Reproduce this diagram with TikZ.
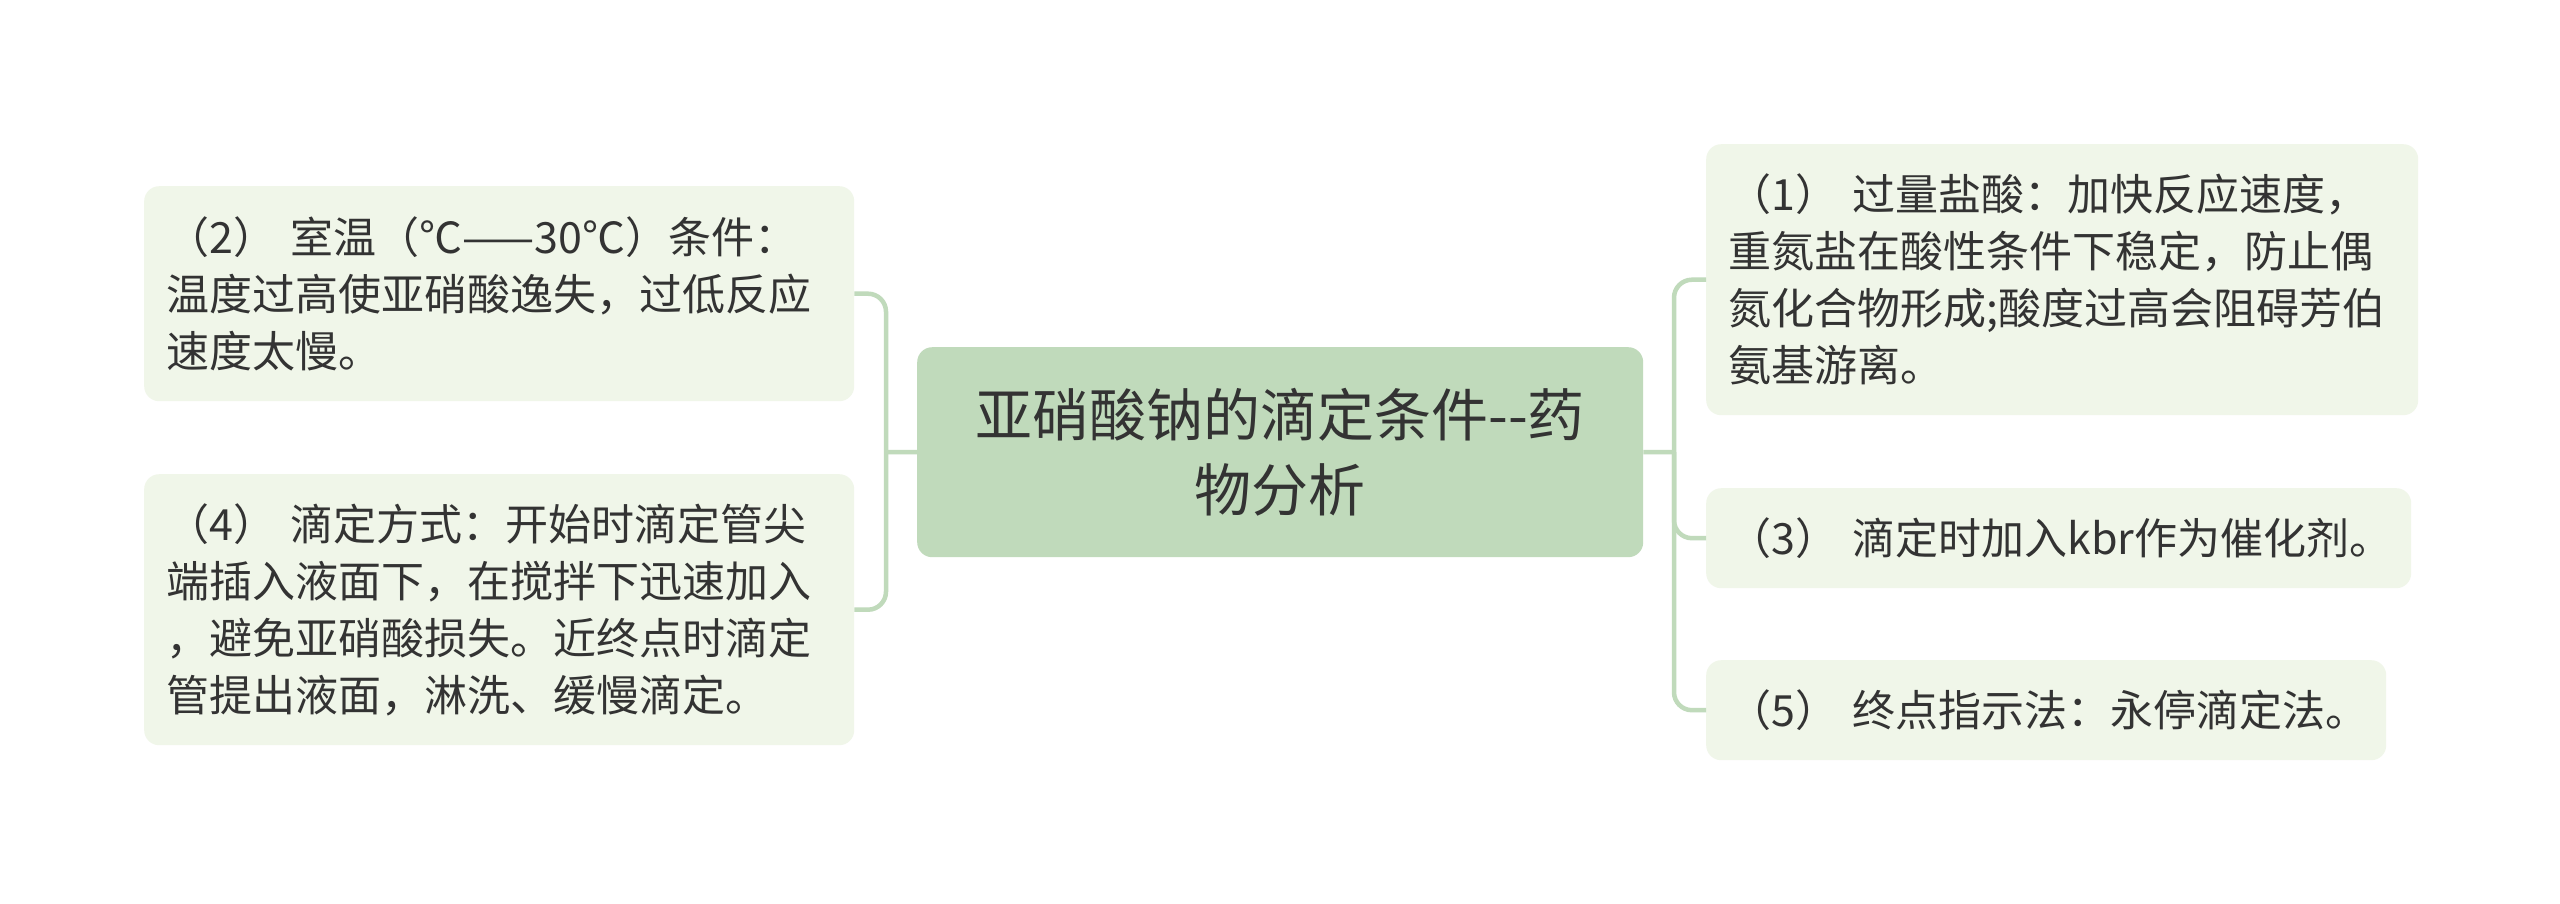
\documentclass[tikz,border=0pt]{standalone}
\usepackage{fontspec}
\setmainfont{Noto Sans CJK SC}
\definecolor{centerfill}{HTML}{C0DABB}
\definecolor{leaffill}{HTML}{F0F6E9}
\definecolor{linecol}{HTML}{C0DABB}
\definecolor{txt}{HTML}{333333}
\tikzset{
  leafbox/.style={rectangle, rounded corners=15pt, fill=leaffill, text=txt,
    font=\fontsize{43}{57}\selectfont, align=left, inner xsep=22pt, inner ysep=0pt,
    anchor=north west},
  centerbox/.style={rectangle, rounded corners=15pt, fill=centerfill, text=txt,
    font=\fontsize{57}{75}\selectfont, align=center, inner xsep=20pt, inner ysep=0pt,
    anchor=north west},
  conn/.style={draw=linecol, line width=4.5pt, rounded corners=18pt}
}
\begin{document}
\begin{tikzpicture}[x=1pt,y=-1pt]
\useasboundingbox[fill=white] (0,0) rectangle (2560,903);

\node[centerbox, minimum width=726pt, minimum height=210pt, text width=686pt] (C) at (917,347)
  {\mbox{亚硝酸钠的滴定条件-{}-药}\\物分析};

\node[leafbox, minimum width=710pt, minimum height=215pt, text width=666pt] (L1) at (144,186)
  {\mbox{（2）~室温（℃——30℃）条件：}\\温度过高使亚硝酸逸失，过低反应\\速度太慢。};
\node[leafbox, minimum width=710pt, minimum height=271pt, text width=666pt] (L2) at (144,474)
  {\mbox{（4）~滴定方式：开始时滴定管尖}\\端插入液面下，在搅拌下迅速加入\\，避免亚硝酸损失。近终点时滴定\\管提出液面，淋洗、缓慢滴定。};

\node[leafbox, minimum width=712pt, minimum height=271pt, text width=668pt] (R1) at (1706,144)
  {\mbox{（1）~过量盐酸：加快反应速度，}\\重氮盐在酸性条件下稳定，防止偶\\\mbox{氮化合物形成;酸度过高会阻碍芳伯}\\氨基游离。};
\node[leafbox, minimum width=705pt, minimum height=100pt, text width=661pt] (R3) at (1706,488)
  {\mbox{（3）~滴定时加入kbr作为催化剂。}};
\node[leafbox, minimum width=680pt, minimum height=100pt, text width=636pt] (R5) at (1706,660)
  {\mbox{（5）~终点指示法：永停滴定法。}};

\coordinate (jl) at (886,452);
\coordinate (jr) at (1674,452);

\draw[conn] (L1.east) -| (jl) |- (L2.east);
\draw[conn] (C.west) -- (jl);
\draw[conn] (R1.west) -| (jr) |- (R5.west);
\draw[conn] (jr) |- (R3.west);
\draw[conn] (C.east) -- (jr);
\end{tikzpicture}
\end{document}
